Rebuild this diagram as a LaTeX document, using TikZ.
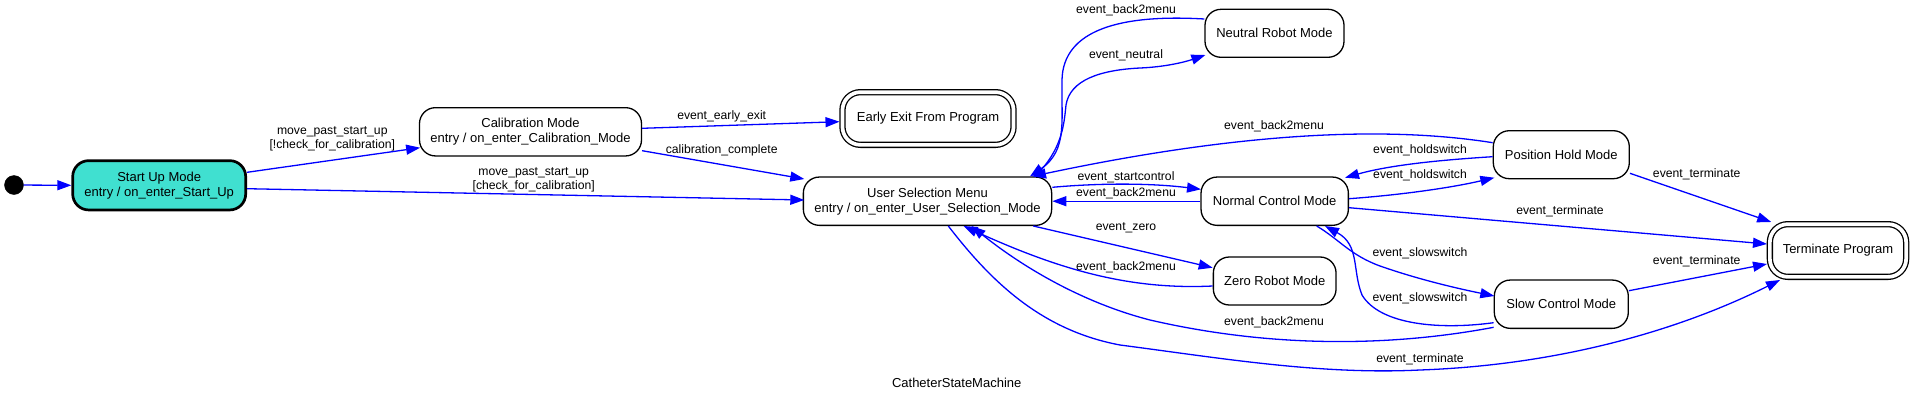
\documentclass[tikz,border=0pt]{standalone}
\usepackage{fontspec}
\setmainfont{Liberation Sans}
\usetikzlibrary{arrows.meta,calc}
\definecolor{turq}{HTML}{40E0D0}
\begin{document}
\begin{tikzpicture}[x=1pt,y=1pt,
  state/.style={draw=black, line width=1.3pt, rounded corners=16pt, inner sep=0pt, align=center, font=\fontsize{13}{15}\selectfont, fill=white},
  finalstate/.style={state, double, double distance=3.7pt, rounded corners=18pt},
  edge/.style={draw=blue, line width=1.3pt, -{Triangle[length=14pt,width=10pt]}},
  lbl/.style={font=\fontsize{12.2}{14}\selectfont, inner sep=0pt, align=center},
]
\useasboundingbox (0,0) rectangle (1915,-402);

% states
\node[circle, fill=black, draw=black, minimum size=19pt, inner sep=0pt] (init) at (14,-185) {};
\node[state, fill=turq, line width=2.7pt, minimum width=173pt, minimum height=49.3pt] (start) at (159.2,-185.3) {Start Up Mode\\entry / on\_enter\_Start\_Up};
\node[state, minimum width=222pt, minimum height=48.3pt] (calib) at (530.5,-131.8) {Calibration Mode\\entry / on\_enter\_Calibration\_Mode};
\node[finalstate, minimum width=171.1pt, minimum height=52.7pt] (early) at (928,-118.5) {Early Exit From Program};
\node[state, minimum width=248.3pt, minimum height=48.3pt] (user) at (927.5,-201.2) {User Selection Menu\\entry / on\_enter\_User\_Selection\_Mode};
\node[state, minimum width=139pt, minimum height=48pt] (neutral) at (1274.5,-33.3) {Neutral Robot Mode};
\node[state, minimum width=147.3pt, minimum height=48.3pt] (normal) at (1274.7,-201.2) {Normal Control Mode};
\node[state, minimum width=122.7pt, minimum height=48pt] (zero) at (1274.7,-281) {Zero Robot Mode};
\node[state, minimum width=136pt, minimum height=48pt] (pos) at (1561.3,-154.7) {Position Hold Mode};
\node[state, minimum width=134pt, minimum height=48.3pt] (slow) at (1561.3,-304.2) {Slow Control Mode};
\node[finalstate, minimum width=136.3pt, minimum height=52.7pt] (term) at (1838,-250.5) {Terminate Program};
\node[font=\fontsize{13}{15}\selectfont, inner sep=0pt] (title) at (956.7,-383.3) {CatheterStateMachine};

% transitions
\draw[edge] (init) -- (start.west);
\draw[edge] ($(start.east)+(0,13)$) -- ($(calib.west)+(1.3,-15.9)$);
\draw[edge] ($(start.east)+(0,-3.4)$) -- ($(user.west)+(1.6,1.2)$);
\draw[edge] ($(calib.east)+(0,3.5)$) -- ($(early.west)+(-2.3,-3.2)$);
\draw[edge] ($(calib.east)+(0,-18.9)$) -- ($(user.west)+(1.6,22.2)$);
\draw[edge] ($(user.north)+(107.5,0)$) .. controls (1062,-150) and (1064,-125) .. (1066,-105) .. controls (1070,-80) and (1100,-70) .. (1140,-68) .. controls (1165,-67) and (1185,-62) .. ($(neutral.west)+(1,-21.7)$);
\draw[edge] ($(neutral.west)+(0,14.3)$) .. controls (1120,-14) and (1063,-30) .. (1062,-80) .. controls (1061,-120) and (1068,-150) .. ($(user.north)+(102.5,0)$);
\draw[edge] ($(pos.west)+(0,12)$) .. controls (1400,-128) and (1260,-128) .. ($(user.north)+(104.5,0)$);
\draw[edge] ($(user.east)+(0,13.9)$) .. controls (1100,-183) and (1150,-183) .. ($(normal.west)+(0.6,11.9)$);
\draw[edge] (normal.west) -- (user.east);
\draw[edge] ($(user.south)+(105.8,0)$) -- ($(zero.west)+(0,13.3)$);
\draw[edge] ($(zero.west)+(0,-5)$) .. controls (1130,-290) and (1060,-270) .. ($(user.south)+(36,0)$);
\draw[edge] ($(slow.west)+(0,-23.1)$) .. controls (1400,-345) and (1280,-350) .. (1150,-320) .. controls (1080,-302) and (1020,-265) .. ($(user.south)+(44,0)$);
\draw[edge] ($(user.south)+(20.8,0)$) .. controls (990,-280) and (1040,-330) .. (1120,-345) .. controls (1220,-358) and (1320,-375) .. (1420,-370) .. controls (1560,-365) and (1680,-330) .. ($(term.south)+(-58,-2.5)$);
\draw[edge] ($(pos.west)+(0,-2)$) .. controls (1440,-160) and (1390,-165) .. ($(normal.east)+(-4,23.5)$);
\draw[edge] ($(normal.east)+(0,2.5)$) .. controls (1400,-195) and (1450,-188) .. ($(pos.west)+(1.7,-23)$);
\draw[edge] ($(pos.east)+(0,-18.6)$) -- ($(term.north west)+(2,1.5)$);
\draw[edge] ($(normal.east)+(0,-6.5)$) -- ($(term.west)+(-2.2,6.5)$);
\draw[edge] ($(slow.east)+(0,13.5)$) -- ($(term.west)+(-2.2,-13.5)$);
\draw[edge] ($(normal.south)+(42,0)$) .. controls (1340,-240) and (1350,-255) .. (1380,-266) .. controls (1420,-280) and (1460,-289) .. ($(slow.west)+(0.7,8.2)$);
\draw[edge] ($(slow.west)+(0,-18.5)$) .. controls (1440,-330) and (1380,-325) .. (1362,-295) .. controls (1352,-270) and (1360,-245) .. ($(normal.south)+(50.3,0)$);

% labels
\node[lbl] (l2) at (332.3,-138.7) {move\_past\_start\_up\\ {[!check\_for\_calibration]}};
\node[lbl] (l3) at (533.7,-180.3) {move\_past\_start\_up\\ {[check\_for\_calibration]}};
\node[lbl] (l4) at (721.7,-116) {event\_early\_exit};
\node[lbl] (l5) at (721.7,-150) {calibration\_complete};
\node[lbl] (l6) at (1126,-55.7) {event\_neutral};
\node[lbl] (l7) at (1126,-10.7) {event\_back2menu};
\node[lbl] (l8) at (1274,-126.7) {event\_back2menu};
\node[lbl] (l9) at (1126,-177.7) {event\_startcontrol};
\node[lbl] (l10) at (1126,-193.3) {event\_back2menu};
\node[lbl] (l11) at (1126,-227.7) {event\_zero};
\node[lbl] (l12) at (1126,-267.7) {event\_back2menu};
\node[lbl] (l13) at (1274,-322.7) {event\_back2menu};
\node[lbl] (l14) at (1420,-359.7) {event\_terminate};
\node[lbl] (l15) at (1420,-150.7) {event\_holdswitch};
\node[lbl] (l16) at (1420,-175.7) {event\_holdswitch};
\node[lbl] (l17) at (1696.7,-174.3) {event\_terminate};
\node[lbl] (l18) at (1560,-211.7) {event\_terminate};
\node[lbl] (l19) at (1696.7,-261.7) {event\_terminate};
\node[lbl] (l20) at (1420,-253.7) {event\_slowswitch};
\node[lbl] (l21) at (1420,-298.7) {event\_slowswitch};
\end{tikzpicture}
\end{document}
